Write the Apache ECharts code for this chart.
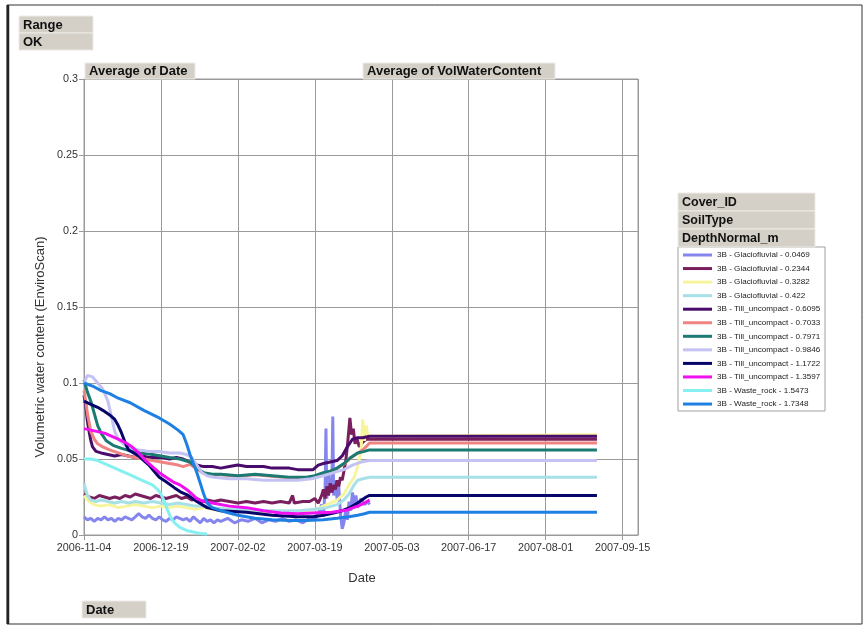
<!DOCTYPE html>
<html><head><meta charset="utf-8">
<script src="https://cdn.jsdelivr.net/npm/echarts@6/dist/echarts.min.js"></script>
<style>html,body{margin:0;padding:0;background:#fff}#c{width:865px;height:627px}</style>
</head><body><div id="c"></div>
<script>
// x values are days since 2006-11-04
const startDate = '2006-11-04';
const xTickDays = [0, 45, 90, 135, 180, 225, 270, 315];
const yTicks = [0, 0.05, 0.1, 0.15, 0.2, 0.25, 0.3];

const seriesNames = [
  '3B - Glaciofluvial - 0.0469', '3B - Glaciofluvial - 0.2344', '3B - Glaciofluvial - 0.3282', '3B - Glaciofluvial - 0.422',
  '3B - Till_uncompact - 0.6095', '3B - Till_uncompact - 0.7033', '3B - Till_uncompact - 0.7971', '3B - Till_uncompact - 0.9846',
  '3B - Till_uncompact - 1.1722', '3B - Till_uncompact - 1.3597', '3B - Waste_rock - 1.5473', '3B - Waste_rock - 1.7348'
];
const seriesColors = ['#8585ee','#7a1f5e','#f7f59c','#a8e0e8','#4a0c6c','#f08482','#1b7a72','#c4c2f2','#06066a','#f010f0','#86f0f0','#1f80e4'];

const glacio_0469 = [[0,0.012],[2,0.010],[4,0.011],[6,0.009],[8,0.011],[10,0.010],[12,0.012],[14,0.010],[16,0.011],[18,0.009],[20,0.011],[22,0.010],[24,0.012],[26,0.011],[28,0.010],[30,0.012],[32,0.014],[34,0.012],[36,0.011],[38,0.013],[40,0.011],[42,0.010],[44,0.012],[46,0.010],[48,0.009],[50,0.011],[52,0.010],[54,0.012],[56,0.011],[58,0.010],[60,0.011],[62,0.009],[64,0.012],[66,0.010],[68,0.008],[70,0.011],[72,0.009],[74,0.010],[76,0.008],[78,0.010],[80,0.009],[84,0.011],[88,0.008],[92,0.010],[96,0.009],[100,0.011],[104,0.008],[108,0.010],[112,0.009],[116,0.011],[120,0.009],[124,0.010],[128,0.008],[132,0.011],[135,0.010],[137,0.014],[139,0.020],[140,0.012],[141,0.030],[141.5,0.070],[142,0.024],[143,0.040],[144,0.028],[145,0.035],[145.5,0.078],[146,0.026],[147,0.036],[148,0.024],[149,0.032],[150,0.014],[151,0.004],[152,0.008],[153,0.016],[154,0.010],[155,0.022],[156,0.016],[157,0.028],[158,0.020],[159,0.026],[160,0.018],[162,0.024],[164,0.020],[166,0.022],[167,0.020]];
const glacio_2344 = [[0,0.027],[3,0.025],[6,0.024],[9,0.026],[12,0.025],[15,0.024],[18,0.025],[21,0.024],[24,0.026],[27,0.025],[30,0.027],[33,0.026],[36,0.025],[39,0.024],[42,0.026],[45,0.025],[48,0.024],[51,0.025],[54,0.026],[57,0.024],[60,0.025],[63,0.023],[66,0.024],[69,0.022],[72,0.023],[76,0.022],[80,0.023],[85,0.022],[90,0.021],[95,0.022],[100,0.021],[105,0.022],[110,0.021],[115,0.022],[120,0.021],[122,0.026],[123,0.021],[128,0.022],[132,0.022],[135,0.024],[137,0.021],[139,0.026],[140,0.030],[141,0.024],[142,0.032],[143,0.026],[144,0.034],[145,0.028],[146,0.033],[147,0.030],[148,0.036],[149,0.032],[150,0.038],[151,0.036],[152,0.042],[153,0.048],[154,0.058],[155.5,0.077],[156.5,0.066],[157.5,0.070],[158.5,0.060],[159.5,0.064],[161,0.058],[163,0.061],[165,0.063],[167,0.063],[300,0.063]];
const glacio_3282 = [[0,0.026],[3,0.022],[6,0.020],[10,0.019],[15,0.020],[20,0.018],[25,0.019],[30,0.020],[35,0.019],[40,0.018],[45,0.019],[50,0.018],[55,0.019],[60,0.018],[65,0.017],[70,0.018],[75,0.017],[80,0.016],[90,0.016],[100,0.015],[110,0.016],[120,0.015],[130,0.016],[136,0.017],[140,0.019],[144,0.021],[148,0.023],[152,0.027],[155,0.033],[158,0.038],[160,0.045],[162,0.055],[163,0.076],[164,0.062],[165,0.072],[166,0.065],[167,0.066],[300,0.066]];
const glacio_422 = [[0,0.034],[1,0.030],[2,0.026],[4,0.023],[7,0.022],[10,0.023],[14,0.022],[18,0.021],[22,0.022],[26,0.021],[30,0.022],[35,0.021],[40,0.022],[45,0.021],[50,0.020],[55,0.021],[60,0.020],[65,0.019],[70,0.019],[75,0.018],[85,0.017],[95,0.017],[105,0.016],[115,0.016],[125,0.016],[135,0.017],[142,0.018],[148,0.020],[152,0.023],[155,0.027],[158,0.033],[160,0.036],[163,0.037],[167,0.038],[300,0.038]];
const till_6095 = [[0,0.092],[1,0.085],[2,0.075],[3,0.068],[4,0.062],[5,0.058],[7,0.055],[10,0.054],[14,0.053],[18,0.052],[22,0.053],[26,0.052],[30,0.051],[34,0.052],[38,0.051],[42,0.051],[46,0.051],[50,0.050],[54,0.051],[58,0.050],[62,0.048],[66,0.046],[70,0.045],[75,0.045],[80,0.044],[85,0.045],[90,0.046],[95,0.045],[100,0.045],[105,0.045],[110,0.044],[115,0.044],[120,0.044],[125,0.043],[130,0.043],[134,0.043],[137,0.046],[140,0.047],[144,0.048],[148,0.049],[151,0.052],[154,0.058],[157,0.063],[160,0.064],[163,0.064],[167,0.065],[300,0.065]];
const till_7033 = [[0,0.095],[1,0.088],[2,0.080],[3,0.074],[4,0.068],[6,0.063],[8,0.060],[11,0.058],[15,0.056],[20,0.054],[25,0.052],[30,0.051],[35,0.050],[40,0.049],[45,0.048],[50,0.047],[55,0.046],[58,0.045],[62,0.0465],[66,0.0435],[70,0.0407],[75,0.0397],[80,0.0397],[90,0.0387],[100,0.0397],[110,0.0387],[120,0.0377],[130,0.0377],[135,0.0387],[140,0.0407],[144,0.0417],[148,0.0437],[152,0.0467],[156,0.0507],[160,0.0537],[164,0.057],[167,0.0605],[300,0.0605]];
const till_7971 = [[0,0.102],[1,0.098],[2,0.094],[4,0.088],[6,0.080],[8,0.072],[10,0.067],[13,0.062],[17,0.059],[22,0.057],[28,0.055],[33,0.054],[40,0.053],[45,0.052],[50,0.051],[56,0.050],[62,0.048],[66,0.044],[70,0.041],[75,0.040],[80,0.040],[90,0.039],[100,0.040],[110,0.039],[120,0.038],[130,0.038],[135,0.039],[140,0.041],[144,0.042],[148,0.044],[152,0.047],[156,0.051],[160,0.054],[164,0.055],[167,0.056],[300,0.056]];
const till_9846 = [[0,0.100],[2,0.105],[5,0.104],[8,0.100],[11,0.096],[14,0.088],[16,0.078],[18,0.068],[20,0.063],[24,0.059],[28,0.057],[32,0.056],[38,0.055],[44,0.055],[50,0.054],[56,0.054],[60,0.053],[63,0.051],[66,0.046],[69,0.041],[72,0.039],[76,0.038],[85,0.037],[95,0.037],[105,0.036],[115,0.036],[125,0.036],[133,0.037],[140,0.039],[146,0.041],[152,0.043],[157,0.046],[162,0.048],[167,0.049],[300,0.049]];
const till_11722 = [[0,0.088],[4,0.086],[8,0.084],[11,0.082],[15,0.079],[18,0.076],[20,0.072],[22,0.067],[24,0.061],[26,0.056],[29,0.054],[32,0.052],[35,0.049],[38,0.046],[41,0.042],[44,0.038],[48,0.035],[53,0.031],[57,0.028],[61,0.026],[66,0.022],[72,0.018],[80,0.016],[95,0.015],[110,0.013],[125,0.012],[134,0.012],[140,0.013],[146,0.0145],[151,0.016],[155.5,0.018],[160,0.021],[165,0.025],[167,0.026],[300,0.026]];
const till_13597 = [[0,0.070],[4,0.069],[8,0.068],[12,0.067],[16,0.065],[20,0.063],[24,0.061],[28,0.058],[32,0.054],[36,0.049],[40,0.045],[44,0.041],[48,0.038],[52,0.035],[56,0.033],[60,0.030],[63,0.027],[66,0.024],[70,0.022],[75,0.021],[85,0.019],[95,0.018],[105,0.016],[115,0.0145],[125,0.014],[134,0.0145],[145,0.015],[154,0.0165],[160,0.019],[164,0.021],[167,0.023]];
const waste_15473 = [[0,0.050],[4,0.050],[8,0.049],[12,0.047],[16,0.045],[20,0.043],[24,0.041],[28,0.039],[32,0.037],[36,0.035],[40,0.033],[43,0.030],[45,0.027],[47,0.022],[49,0.016],[51,0.011],[53,0.008],[56,0.005],[60,0.003],[64,0.002],[68,0.001],[72,0.0007]];
const waste_17348 = [[0,0.100],[5,0.098],[10,0.095],[15,0.093],[20,0.090],[27,0.087],[35,0.082],[44,0.077],[50,0.073],[55,0.069],[58,0.066],[60,0.060],[62,0.053],[64,0.047],[66,0.041],[68,0.034],[70,0.027],[72,0.021],[75,0.018],[80,0.016],[90,0.013],[100,0.011],[110,0.010],[120,0.0095],[130,0.0095],[140,0.010],[148,0.011],[155,0.012],[160,0.013],[164,0.014],[167,0.015],[300,0.015]];

const seriesData = [glacio_0469, glacio_2344, glacio_3282, glacio_422, till_6095, till_7033, till_7971, till_9846, till_11722, till_13597, waste_15473, waste_17348];

const start = Date.parse(startDate + 'T00:00:00Z');
function dayLabel(d) { return new Date(start + d * 86400000).toISOString().slice(0, 10); }

const FONT = 'Liberation Sans, Arial, sans-serif';
const BOX = '#d4d0c8';
function box(x, y, w, h, label, fs) {
  return [
    { type: 'rect', shape: { x: x, y: y, width: w, height: h }, style: { fill: BOX, stroke: '#ecebe6', lineWidth: 1 }, z: 10 },
    { type: 'text', x: x + 4, y: y + h / 2 + 0.5, style: { text: label, font: 'bold ' + (fs || 13) + 'px ' + FONT, fill: '#111', verticalAlign: 'middle' }, z: 11 }
  ];
}

const chart = echarts.init(document.getElementById('c'), null, { renderer: 'canvas' });
chart.setOption({
  animation: false,
  backgroundColor: '#fff',
  grid: { left: 84, top: 79, right: 227, bottom: 92, show: true, borderColor: '#9a9a9a', borderWidth: 1, containLabel: false },
  xAxis: {
    type: 'value', min: xTickDays[0], max: 324, interval: 45,
    axisLine: { lineStyle: { color: '#9a9a9a' } },
    axisTick: { show: true, length: 5, lineStyle: { color: '#9a9a9a' } },
    axisLabel: { showMaxLabel: false, formatter: v => dayLabel(v), fontSize: 10.8, color: '#333', fontFamily: FONT, margin: 8 },
    splitLine: { show: true, lineStyle: { color: '#9a9a9a' } }
  },
  yAxis: {
    type: 'value', min: yTicks[0], max: yTicks[yTicks.length - 1], interval: 0.05,
    axisLine: { show: true, lineStyle: { color: '#9a9a9a' } },
    axisTick: { show: true, length: 5, lineStyle: { color: '#9a9a9a' } },
    axisLabel: { fontSize: 10.8, color: '#333', fontFamily: FONT, margin: 6 },
    splitLine: { show: true, lineStyle: { color: '#9a9a9a' } }
  },
  legend: {
    orient: 'vertical', left: 678, top: 245, padding: 5, itemWidth: 29, itemHeight: 3, itemGap: 3.55, icon: 'rect',
    data: seriesNames,
    textStyle: { fontSize: 8.1, color: '#222', fontFamily: FONT, lineHeight: 10 },
    selectedMode: false
  },
  series: seriesNames.map((n, i) => ({
    name: n, type: 'line', data: seriesData[i], showSymbol: false, symbol: 'none',
    color: seriesColors[i], lineStyle: { width: 3, color: seriesColors[i] }, z: 2 + i
  })),
  graphic: [
    { type: 'rect', shape: { x: 7, y: 5, width: 855, height: 619 }, style: { fill: 'none', stroke: '#333', lineWidth: 1 }, z: 1 },
    { type: 'line', shape: { x1: 8, y1: 5, x2: 8, y2: 624 }, style: { stroke: '#222', lineWidth: 2.5 }, z: 1 },
    ...box(19, 16, 74, 17, 'Range'),
    ...box(19, 33, 74, 17, 'OK'),
    ...box(85, 63, 110, 16, 'Average of Date'),
    ...box(363, 63, 192, 16, 'Average of VolWaterContent'),
    ...box(678, 193, 137, 18, 'Cover_ID', 12.5),
    ...box(678, 211, 137, 18, 'SoilType', 12.5),
    ...box(678, 229, 137, 18, 'DepthNormal_m', 12.5),
    ...box(82, 601, 64, 17, 'Date'),
    { type: 'rect', shape: { x: 678, y: 247, width: 147, height: 164 }, style: { fill: '#fff', stroke: '#a0a0a0', lineWidth: 1 }, z: -1, silent: true },
    { type: 'text', x: 362, y: 578, style: { text: 'Date', font: '13px ' + FONT, fill: '#333', align: 'center', verticalAlign: 'middle' }, z: 5 },
    { type: 'text', x: 40, y: 347, rotation: Math.PI / 2, style: { text: 'Volumetric water content (EnviroScan)', font: '13px ' + FONT, fill: '#333', align: 'center', verticalAlign: 'middle' }, z: 5 }
  ]
});
</script></body></html>
